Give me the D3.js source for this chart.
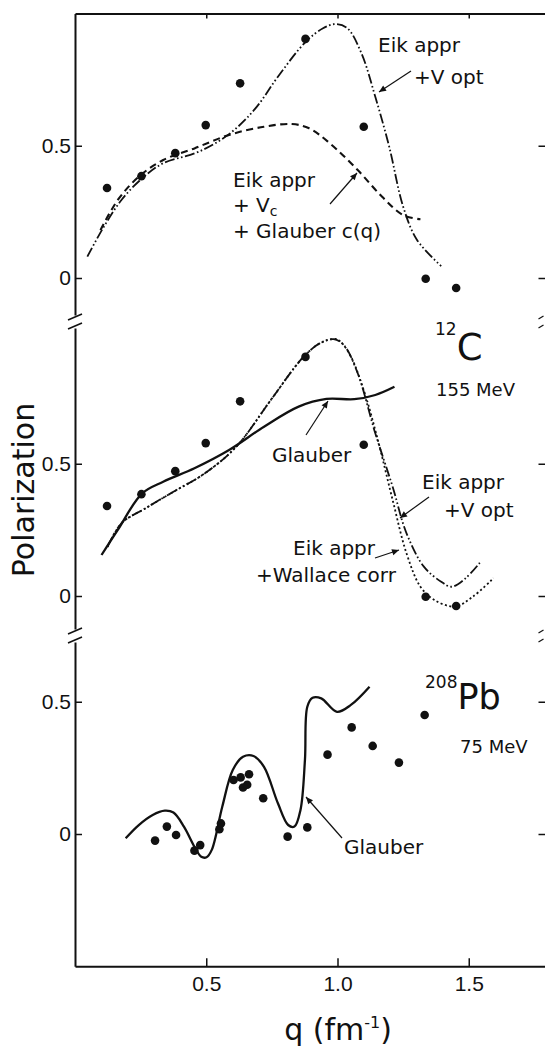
<!DOCTYPE html>
<html lang="en">
<head>
<meta charset="utf-8">
<title>Polarization - 12C and 208Pb</title>
<script src="https://d3js.org/d3.v7.min.js"></script>
<style>
  body { margin: 0; background: #fff; }
  svg { display: block; }
  text { font-family: "DejaVu Sans", sans-serif; fill: #111; }
  .tick text { font-family: "Liberation Sans Narrow", "Liberation Sans", sans-serif; font-size: 21px; fill: #111; }
  .axis path, .axis line { stroke: #111; }
</style>
</head>
<body>
<svg width="545" height="1048"></svg>
<script>
// 12C at 155 MeV, measured points (same set in both upper panels)
var carbonQ = [0.122, 0.253, 0.382, 0.498, 0.629, 0.878, 1.100, 1.336, 1.452];
var carbonP = [0.340, 0.385, 0.472, 0.578, 0.736, 0.904, 0.572, -0.003, -0.038];

// top panel: Eik appr + V opt (dash dot dot)
var eikVoptTopQ = [0.047, 0.110, 0.177, 0.256, 0.336, 0.455, 0.534, 0.614, 0.693, 0.773, 0.879, 0.945, 0.991, 1.038, 1.091, 1.144, 1.197, 1.250, 1.303, 1.395];
var eikVoptTopP = [0.081, 0.194, 0.295, 0.377, 0.434, 0.471, 0.509, 0.566, 0.648, 0.761, 0.893, 0.944, 0.960, 0.944, 0.850, 0.685, 0.496, 0.270, 0.144, 0.045];

// top panel: Eik appr + Vc + Glauber c(q) (dashed)
var eikVcQ = [0.097, 0.163, 0.243, 0.336, 0.455, 0.587, 0.720, 0.826, 0.892, 0.971, 1.077, 1.170, 1.250, 1.316];
var eikVcP = [0.181, 0.295, 0.383, 0.446, 0.490, 0.541, 0.572, 0.582, 0.566, 0.509, 0.408, 0.307, 0.238, 0.222];

// middle panel: Glauber (solid)
var glauberCQ = [0.101, 0.163, 0.256, 0.336, 0.455, 0.587, 0.720, 0.852, 0.958, 1.064, 1.144, 1.217];
var glauberCP = [0.155, 0.250, 0.388, 0.432, 0.483, 0.552, 0.640, 0.716, 0.745, 0.744, 0.760, 0.791];

// middle panel: Eik appr + V opt (dash dot dot)
var eikVoptMidQ = [0.124, 0.177, 0.269, 0.375, 0.495, 0.614, 0.746, 0.866, 0.932, 0.985, 1.024, 1.077, 1.144, 1.210, 1.263, 1.329, 1.395, 1.435, 1.488, 1.548];
var eikVoptMidP = [0.186, 0.275, 0.332, 0.394, 0.464, 0.564, 0.741, 0.899, 0.955, 0.971, 0.949, 0.842, 0.615, 0.413, 0.237, 0.111, 0.054, 0.035, 0.067, 0.133];

// middle panel: Eik appr + Wallace corr (dotted)
var wallaceQ = [0.124, 0.177, 0.269, 0.375, 0.495, 0.614, 0.746, 0.866, 0.932, 0.991, 1.011, 1.051, 1.104, 1.157, 1.210, 1.263, 1.316, 1.369, 1.448, 1.515, 1.594];
var wallaceP = [0.186, 0.275, 0.332, 0.394, 0.464, 0.564, 0.741, 0.899, 0.955, 0.972, 0.962, 0.905, 0.766, 0.577, 0.363, 0.161, 0.035, -0.015, -0.040, -0.003, 0.067];

// 208Pb at 75 MeV, measured points
var leadQ = [0.305, 0.350, 0.385, 0.455, 0.477, 0.550, 0.556, 0.604, 0.631, 0.640, 0.656, 0.663, 0.717, 0.810, 0.885, 0.962, 1.054, 1.134, 1.234, 1.332];
var leadP = [-0.025, 0.028, -0.004, -0.063, -0.042, 0.018, 0.040, 0.204, 0.214, 0.176, 0.186, 0.226, 0.135, -0.010, 0.025, 0.300, 0.403, 0.333, 0.270, 0.450];

// bottom panel: Glauber (solid)
var glauberPbQ = [0.193, 0.243, 0.296, 0.342, 0.375, 0.415, 0.455, 0.481, 0.501, 0.521, 0.561, 0.601, 0.640, 0.680, 0.720, 0.773, 0.812, 0.836, 0.859, 0.876, 0.885, 0.905, 0.938, 0.998, 1.051, 1.122];
var glauberPbP = [-0.016, 0.034, 0.072, 0.088, 0.081, 0.028, -0.048, -0.086, -0.088, -0.060, 0.103, 0.242, 0.292, 0.295, 0.254, 0.116, 0.034, 0.028, 0.091, 0.280, 0.481, 0.515, 0.513, 0.462, 0.488, 0.557];

var yTicks = [0, 0.5];
var xTicks = [0.5, 1.0, 1.5];

function pairs(q, p) { return q.map(function(v, i) { return [v, p[i]]; }); }

var svg = d3.select("svg");

var x = d3.scaleLinear().domain([0, 1.8]).range([75, 547.5]);
var k = 264.5; // px per unit polarization, same in all panels
function panelScale(zero, lo, hi) {
  return d3.scaleLinear().domain([lo, hi]).range([zero - lo * k, zero - hi * k]);
}
var yTop = panelScale(278, -0.14, 1.0);
var yMid = panelScale(596, -0.125, 1.013);
var yBot = panelScale(834, -0.5, 0.726);

svg.append("defs").append("marker")
  .attr("id", "arr")
  .attr("viewBox", "0 0 10 10")
  .attr("refX", 10).attr("refY", 5)
  .attr("markerWidth", 9).attr("markerHeight", 7)
  .attr("markerUnits", "userSpaceOnUse")
  .attr("orient", "auto")
  .append("path").attr("d", "M0,0.5L10,5L0,9.5z").attr("fill", "#111");

// axes
[yTop, yMid, yBot].forEach(function(y) {
  svg.append("g").attr("class", "axis")
    .attr("transform", "translate(" + x(0) + ",0)")
    .call(d3.axisLeft(y).tickValues(yTicks).tickFormat(function(d) { return d === 0 ? "0" : "0.5"; })
      .tickSizeInner(-7).tickSizeOuter(0).tickPadding(4))
    .call(function(g) { g.select(".domain").attr("stroke-width", 2); g.selectAll(".tick line").attr("stroke-width", 1.5); });
  svg.append("g").attr("class", "axis")
    .attr("transform", "translate(" + x(1.8) + ",0)")
    .call(d3.axisRight(y).tickValues(yTicks).tickFormat("").tickSizeInner(-9).tickSizeOuter(0))
    .call(function(g) { g.selectAll(".tick line").attr("stroke-width", 1.5); });
});

svg.append("g").attr("class", "axis")
  .attr("transform", "translate(0," + yBot(-0.5) + ")")
  .call(d3.axisBottom(x).tickValues(xTicks).tickFormat(d3.format(".1f"))
    .tickSizeInner(-8).tickSizeOuter(0).tickPadding(10))
  .call(function(g) { g.select(".domain").attr("stroke-width", 2); g.selectAll(".tick line").attr("stroke-width", 1.5); });

svg.append("g").attr("class", "axis")
  .attr("transform", "translate(0," + yTop(1.0) + ")")
  .call(d3.axisTop(x).tickValues(xTicks).tickFormat("").tickSizeInner(-5).tickSizeOuter(0))
  .call(function(g) { g.select(".domain").attr("stroke-width", 2); g.selectAll(".tick line").attr("stroke-width", 1.5); });

// axis break marks
var breaks = [yTop(-0.14), yMid(1.013), yMid(-0.125), yBot(0.726)];
breaks.forEach(function(b, i) {
  var off = (i % 2 === 0) ? 2 : -2;
  svg.append("line").attr("x1", x(0) - 7).attr("y1", b + off + 3).attr("x2", x(0) + 7).attr("y2", b + off - 3)
    .attr("stroke", "#111").attr("stroke-width", 1.6);
  svg.append("line").attr("x1", x(1.8) - 9).attr("y1", b + off + 2).attr("x2", x(1.8) - 4).attr("y2", b + off - 1)
    .attr("stroke", "#111").attr("stroke-width", 1.2);
});

// curves
function curve(y, q, p, dash, w) {
  var line = d3.line().x(function(d) { return x(d[0]); }).y(function(d) { return y(d[1]); })
    .curve(d3.curveCatmullRom.alpha(0.5));
  svg.append("path").datum(pairs(q, p))
    .attr("d", line).attr("fill", "none").attr("stroke", "#111")
    .attr("stroke-width", w).attr("stroke-dasharray", dash);
}
var ddot = "10,2.5,1.6,2.5,1.6,2.5";
curve(yTop, eikVoptTopQ, eikVoptTopP, ddot, 1.8);
curve(yTop, eikVcQ, eikVcP, "7,4.5", 2.1);
curve(yMid, glauberCQ, glauberCP, null, 2.3);
curve(yMid, wallaceQ, wallaceP, "2,2.5", 1.8);
curve(yMid, eikVoptMidQ, eikVoptMidP, ddot, 1.8);
curve(yBot, glauberPbQ, glauberPbP, null, 2.3);

// points
function dots(y, q, p) {
  svg.append("g").selectAll("circle").data(pairs(q, p)).join("circle")
    .attr("cx", function(d) { return x(d[0]); })
    .attr("cy", function(d) { return y(d[1]); })
    .attr("r", 4.3).attr("fill", "#111");
}
dots(yTop, carbonQ, carbonP);
dots(yMid, carbonQ, carbonP);
dots(yBot, leadQ, leadP);

// labels
function label(tx, ty, str, size) {
  return svg.append("text").attr("x", tx).attr("y", ty).attr("font-size", size || 20).text(str);
}
function arrow(x1, y1, x2, y2) {
  svg.append("line").attr("x1", x1).attr("y1", y1).attr("x2", x2).attr("y2", y2)
    .attr("stroke", "#111").attr("stroke-width", 1.2).attr("marker-end", "url(#arr)");
}

label(378, 52, "Eik appr");
label(414, 84, "+V opt");
arrow(411, 71, 379, 92);

label(233, 187, "Eik appr");
var vc = label(233, 212, "+ V");
vc.append("tspan").attr("font-size", 14).attr("dy", 4).text("c");
label(233, 238, "+ Glauber c(q)");
arrow(330, 204, 357, 173);

var c12 = svg.append("text").attr("x", 435).attr("y", 360);
c12.append("tspan").attr("font-size", 17).attr("dy", -25).text("12");
c12.append("tspan").attr("font-size", 37).attr("dy", 25).text("C");
label(436, 396, "155 MeV", 18);

label(272, 462, "Glauber");
arrow(306, 435, 328, 401);
label(422, 489, "Eik appr");
label(444, 517, "+V opt");
arrow(429, 497, 400, 518);
label(293, 555, "Eik appr");
label(256, 582, "+Wallace corr");
arrow(375, 558, 399, 550);

var pb = svg.append("text").attr("x", 425).attr("y", 709);
pb.append("tspan").attr("font-size", 17).attr("dy", -21).text("208");
pb.append("tspan").attr("font-size", 35).attr("dy", 21).text("Pb");
label(460, 753, "75 MeV", 18);

label(344, 854, "Glauber");
arrow(342, 838, 306, 797);

// axis titles
svg.append("text").attr("transform", "translate(34,490) rotate(-90)")
  .attr("text-anchor", "middle").attr("font-size", 30).text("Polarization");
var xt = svg.append("text").attr("x", 338).attr("y", 1040).attr("text-anchor", "middle").attr("font-size", 30);
xt.append("tspan").text("q (fm");
xt.append("tspan").attr("font-size", 16).attr("dy", -12).text("-1");
xt.append("tspan").attr("dy", 12).text(")");
</script>
</body>
</html>
